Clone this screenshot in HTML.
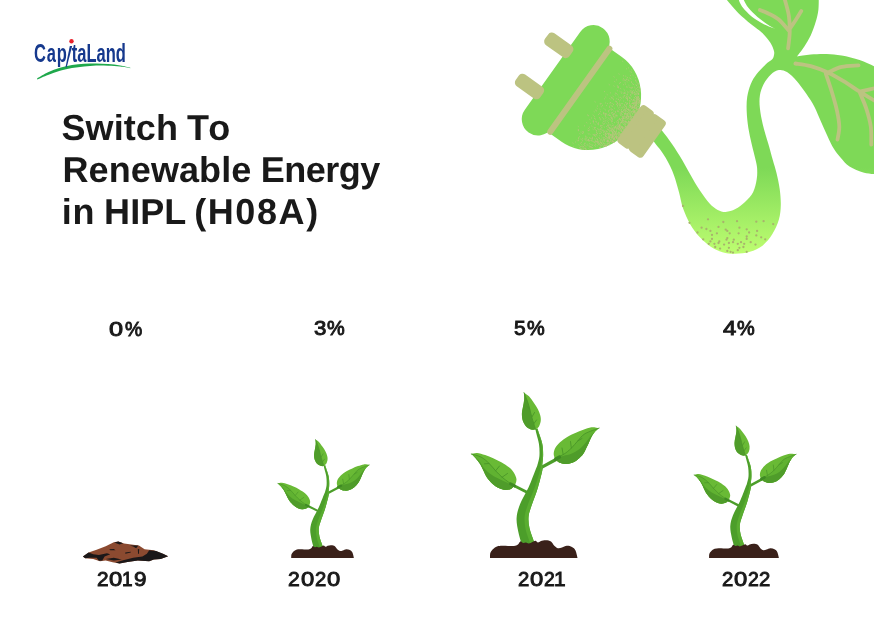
<!DOCTYPE html>
<html><head><meta charset="utf-8">
<style>
html,body{margin:0;padding:0;background:#fff;}
body{width:874px;height:621px;position:relative;overflow:hidden;font-family:"Liberation Sans",sans-serif;color:#191919;}
.t{position:absolute;white-space:nowrap;font-weight:bold;line-height:1;transform-origin:0 0;}
.title{font-size:36px;text-rendering:geometricPrecision;}
.title span{position:absolute;top:0;}
.lb{left:0;font:normal 19.5px/1 "Liberation Sans",sans-serif;-webkit-text-stroke:0.9px #191919;}
.lb span{position:absolute;top:0;transform-origin:0 0;}
.logo{position:absolute;left:34px;top:41px;font-size:25px;font-weight:bold;color:#16398d;line-height:1;white-space:nowrap;transform-origin:0 0;transform:scaleX(0.66);}
.li{color:transparent;display:inline-block;width:6.5px;}
.lc{letter-spacing:1.2px;}
svg{position:absolute;left:0;top:0;}
</style></head><body>
<svg width="874" height="621" viewBox="0 0 874 621">
<defs><linearGradient id="vg" gradientUnits="userSpaceOnUse" x1="0" y1="168" x2="0" y2="258">
<stop offset="0" stop-color="#7ed957"/><stop offset="1" stop-color="#c1ff72"/></linearGradient></defs>
<path d="M648.0,134.0C649.1,135.5 652.8,140.2 654.9,142.9C657.0,145.6 658.7,147.5 660.5,150.0C662.3,152.5 664.2,155.2 665.8,158.0C667.4,160.8 668.9,163.5 670.3,166.5C671.7,169.5 672.8,171.8 674.2,176.1C675.7,180.4 677.5,186.8 679.0,192.2C680.5,197.6 681.1,202.9 683.0,208.3C684.9,213.7 687.5,219.6 690.3,224.4C693.1,229.2 696.4,233.5 699.9,237.3C703.4,241.1 707.4,244.5 711.2,247.0C715.0,249.5 718.5,251.1 722.5,252.2C726.5,253.3 730.8,253.9 735.4,253.8C740.0,253.7 745.3,253.2 749.9,251.8C754.5,250.4 759.0,248.4 762.8,245.4C766.5,242.4 769.7,238.4 772.4,234.1C775.1,229.8 777.5,224.4 778.9,219.6C780.3,214.8 780.7,210.2 780.8,205.1C780.9,200.0 780.4,194.4 779.7,189.0C779.0,183.6 777.6,177.8 776.5,172.9C775.4,168.1 774.2,164.8 772.8,159.9C771.4,155.1 770.0,149.7 768.3,143.8C766.6,137.9 764.2,130.3 762.8,124.4C761.4,118.5 760.4,113.1 759.9,108.3C759.4,103.5 759.3,99.4 759.9,95.4C760.5,91.4 761.8,87.7 763.6,84.2C765.4,80.7 768.4,76.9 770.9,74.5C773.4,72.1 776.2,70.4 778.9,70.0C781.6,69.6 784.0,70.3 787.0,72.1C790.0,73.9 793.5,77.3 796.7,80.9C799.9,84.5 803.3,89.5 806.3,93.8C809.2,98.1 812.0,102.1 814.4,106.7C816.8,111.3 818.6,116.4 820.8,121.2C822.9,126.0 825.1,131.1 827.3,135.7C829.4,140.3 831.5,145.0 833.7,148.6C835.9,152.2 837.9,154.5 840.5,157.5C843.1,160.5 845.6,164.0 849.5,166.5C853.4,169.0 859.0,171.4 864.1,172.7C869.2,174.0 877.4,174.2 880.0,174.5L880.0,69.0C879.0,68.5 877.4,67.7 874.0,66.2C870.6,64.7 865.0,61.9 859.6,60.1C854.2,58.3 847.1,56.6 841.6,55.6C836.1,54.6 831.9,54.2 826.8,54.0C821.6,53.8 815.7,54.1 810.7,54.5C805.7,54.9 799.3,56.1 797.0,56.4C798.2,54.8 801.9,50.2 804.2,46.7C806.5,43.2 808.8,39.4 810.7,35.4C812.6,31.4 814.2,26.9 815.5,22.6C816.8,18.3 817.9,14.3 818.4,9.7C818.9,5.1 818.7,-2.6 818.7,-5.0L723.0,-5.0C723.6,-4.2 724.4,-3.0 726.9,0.0C729.4,3.0 734.2,8.9 738.2,12.9C742.2,16.9 747.1,20.8 751.1,24.2C755.1,27.6 759.1,29.9 762.3,33.0C765.5,36.1 768.5,39.8 770.4,42.7C772.3,45.7 773.3,48.6 773.9,50.7C774.5,52.9 774.2,54.1 773.9,55.6C773.6,57.1 773.4,58.1 772.0,59.6C770.6,61.1 768.1,62.0 765.6,64.4C763.1,66.8 759.2,70.8 756.7,74.1C754.2,77.4 752.3,80.4 750.7,84.2C749.1,88.0 747.9,92.5 747.2,97.1C746.5,101.7 746.5,106.5 746.7,111.6C746.9,116.7 747.5,122.3 748.3,127.7C749.1,133.1 750.4,138.4 751.6,143.8C752.8,149.2 754.7,155.9 755.6,159.9C756.5,163.9 756.9,164.9 757.1,168.1C757.3,171.3 757.4,175.3 756.7,179.3C756.0,183.3 755.1,188.4 753.1,192.2C751.1,196.0 748.0,199.1 745.0,201.9C742.0,204.7 738.6,207.4 735.4,209.1C732.2,210.8 728.7,211.8 725.7,211.9C722.8,212.0 720.4,211.3 717.7,209.9C715.0,208.5 712.6,206.7 709.6,203.5C706.6,200.3 703.1,195.4 699.9,190.6C696.7,185.8 693.2,179.6 690.3,174.5C687.3,169.4 685.2,165.1 682.2,160.0C679.2,154.9 675.3,148.8 672.0,144.0C668.7,139.2 665.2,134.5 662.5,131.2C659.8,127.9 657.1,125.2 656.0,124.0Z" fill="url(#vg)"/>
<path d="M738.2,-3.0C738.5,-2.0 738.9,0.9 740.0,3.0C741.1,5.1 742.2,7.1 744.6,9.7C747.0,12.3 750.8,15.9 754.3,18.5C757.8,21.1 762.2,23.3 765.6,25.0C769.0,26.7 773.4,28.1 774.9,28.7C773.6,27.9 770.1,26.2 767.2,24.2C764.3,22.2 760.6,19.6 757.5,16.9C754.4,14.2 750.9,10.9 748.6,8.1C746.3,5.3 744.8,1.8 743.8,0.0C742.8,-1.8 742.7,-2.5 742.5,-3.0Z" fill="#fff"/>
<path d="M788.1,48.3C788.4,45.6 789.6,37.6 789.7,32.2C789.8,26.8 789.7,21.5 788.9,16.1C788.1,10.7 785.9,3.5 784.9,0.0C783.9,-3.5 783.3,-4.2 783.0,-5.0 M788.9,30.6C787.1,28.7 781.8,22.1 778.4,19.3C775.0,16.5 771.9,15.2 768.8,13.7C765.7,12.1 761.4,10.6 759.9,10.0 M789.7,29.0C790.8,27.4 794.3,22.3 796.2,19.3C798.1,16.3 800.4,12.4 801.3,11.0 M795.4,63.5C798.0,63.9 805.3,64.6 810.7,66.1C816.1,67.6 822.1,69.7 828.0,72.5C833.9,75.3 840.7,79.5 846.0,82.7C851.3,85.9 853.9,88.2 859.6,91.7C865.3,95.2 876.6,102.0 880.0,104.0 M828.0,72.5C830.3,71.6 836.5,68.1 841.6,66.9C846.7,65.7 855.7,65.6 858.5,65.3 M825.8,73.6C826.7,76.4 829.5,84.3 831.4,90.5C833.3,96.7 835.7,104.8 837.0,110.8C838.3,116.8 839.2,121.8 839.3,126.6C839.4,131.4 837.8,137.4 837.5,139.6 M859.6,91.7C863.0,90.9 876.6,87.8 880.0,87.0 M860.0,93.0C861.0,95.6 864.5,103.0 866.3,108.6C868.1,114.2 870.0,120.6 870.8,126.6C871.6,132.6 871.2,141.6 871.3,144.6" fill="none" stroke="#bcc381" stroke-width="3.8" stroke-linecap="round" stroke-linejoin="round"/>
<path d="M683.0,205.9h.01M689.5,222.8h.01M708.0,219.3h.01M701.6,227.7h.01M706.4,229.0h.01M697.5,232.5h.01M710.4,230.9h.01M712.0,234.9h.01M716.9,233.3h.01M718.5,226.9h.01M723.3,222.0h.01M725.7,229.6h.01M727.3,230.9h.01M729.7,233.3h.01M737.0,221.2h.01M739.4,227.7h.01M738.6,233.3h.01M746.7,229.3h.01M749.1,232.5h.01M746.7,236.5h.01M756.3,221.7h.01M763.6,221.2h.01M773.2,224.1h.01M757.1,230.9h.01M756.3,235.4h.01M761.2,237.3h.01M765.2,239.3h.01M750.7,242.2h.01M746.7,238.9h.01M741.0,242.2h.01M737.8,243.8h.01M733.8,239.7h.01M733.0,242.2h.01M727.3,238.1h.01M726.5,239.7h.01M728.9,243.0h.01M724.1,244.6h.01M719.3,241.4h.01M718.5,243.0h.01M714.4,243.8h.01M712.0,238.9h.01M710.4,241.4h.01M708.8,243.8h.01M715.2,247.0h.01M720.1,248.6h.01M728.9,247.8h.01M730.6,251.8h.01M733.0,252.6h.01M737.8,250.2h.01M739.4,247.8h.01M743.4,247.0h.01M744.2,243.8h.01M746.7,251.8h.01M755.5,244.6h.01M703.2,239.3h.01M727.3,251.0h.01" stroke="#a8b46c" stroke-width="2.3" stroke-linecap="round" fill="none"/>
<g transform="translate(579.8,90.3) rotate(35.45)">
<rect x="-33.5" y="-64" width="32.5" height="128" rx="16.25" fill="#7ed957"/>
<path d="M-1,-51.5L15,-51.5A48,52 0 0 1 15,52.5L-1,52.5Z" fill="#7ed957"/>
<path d="M31.9,-44.7h.01M31.3,34.0h.01M31.0,26.7h.01M56.2,-19.4h.01M34.1,17.1h.01M53.2,-22.4h.01M33.4,-34.5h.01M55.5,-23.0h.01M29.6,-10.5h.01M26.7,-46.5h.01M34.6,-43.1h.01M55.5,20.4h.01M53.0,24.9h.01M36.5,-15.0h.01M60.5,-14.1h.01M51.0,26.0h.01M47.9,-34.3h.01M57.7,-8.3h.01M50.5,0.8h.01M50.8,-23.9h.01M39.4,20.8h.01M55.5,-4.8h.01M38.4,44.4h.01M53.0,-7.1h.01M53.9,-11.1h.01M48.7,-25.4h.01M44.9,-22.7h.01M61.5,4.9h.01M19.1,0.5h.01M56.3,-11.5h.01M47.8,14.9h.01M53.5,8.7h.01M45.6,20.1h.01M51.9,25.8h.01M37.4,16.6h.01M48.5,-25.8h.01M24.7,7.0h.01M46.1,18.3h.01M61.2,-5.3h.01M53.1,0.9h.01M25.4,35.4h.01M49.3,35.3h.01M57.6,-21.9h.01M53.9,-22.3h.01M59.7,5.1h.01M49.4,15.0h.01M38.7,-11.0h.01M49.2,-9.1h.01M34.0,9.1h.01M33.2,5.4h.01M43.5,-20.4h.01M40.1,-11.6h.01M46.8,-20.0h.01M51.8,24.9h.01M53.1,-28.0h.01M59.2,-17.8h.01M28.0,41.3h.01M25.4,-23.3h.01M35.1,44.5h.01M50.5,11.2h.01M48.6,-31.3h.01M61.5,8.7h.01M43.8,-30.8h.01M57.6,-7.9h.01M36.7,44.3h.01M61.7,-1.8h.01M58.9,-11.7h.01M42.1,33.8h.01M51.2,-28.9h.01M36.5,-12.1h.01M42.0,-1.1h.01M50.0,29.1h.01M32.3,1.1h.01M48.3,28.9h.01M48.3,32.8h.01M62.0,-0.8h.01M35.6,43.7h.01M56.0,5.7h.01M53.1,-25.6h.01M44.5,-19.5h.01M40.1,9.3h.01M42.3,-2.6h.01M30.1,-24.5h.01M43.5,6.5h.01M54.4,25.5h.01M48.8,-4.9h.01M54.5,22.0h.01M55.2,-6.5h.01M39.4,-20.0h.01M27.0,-37.2h.01M46.3,24.6h.01M49.7,-30.7h.01M50.5,-15.9h.01M53.8,-24.9h.01M51.3,13.3h.01M54.4,16.9h.01M51.7,24.3h.01M43.3,-4.8h.01M46.4,-15.4h.01M54.8,-24.2h.01M53.7,13.8h.01M51.0,17.5h.01M59.2,-17.6h.01M38.5,34.0h.01M53.5,-10.0h.01M44.0,30.4h.01M42.9,29.6h.01M58.3,16.2h.01M53.2,29.8h.01M58.5,-5.6h.01M61.9,-2.6h.01M48.3,-32.5h.01M50.6,22.2h.01M55.4,-1.4h.01M39.2,-21.6h.01M53.5,-17.5h.01M56.8,-12.8h.01M55.7,7.5h.01M51.5,-4.2h.01M52.4,28.3h.01M50.9,-7.7h.01M51.3,21.8h.01M47.4,-31.7h.01M54.3,13.4h.01M42.6,-37.2h.01M54.2,-17.2h.01M57.2,17.5h.01M52.4,-16.5h.01M41.5,-0.5h.01M52.6,8.6h.01M52.6,-17.1h.01M55.5,-0.7h.01M58.1,-2.4h.01M55.6,-18.6h.01M29.0,26.1h.01M36.8,21.1h.01M55.8,22.6h.01M50.7,-16.8h.01M59.5,13.9h.01M58.8,12.6h.01M37.4,-36.6h.01M39.4,15.6h.01M29.1,8.9h.01M53.2,1.8h.01M48.9,27.0h.01M51.2,21.7h.01M50.1,8.9h.01M61.0,7.5h.01M35.5,-5.8h.01M31.5,42.7h.01M37.2,32.9h.01M56.8,-8.2h.01M39.6,-9.2h.01M53.3,11.8h.01M57.7,8.6h.01M32.7,-11.9h.01M57.0,8.6h.01M35.3,46.8h.01M51.6,-26.7h.01M23.6,-27.3h.01M44.5,-16.5h.01M60.3,0.5h.01M50.4,-12.0h.01M44.2,20.7h.01M54.6,-15.4h.01M48.4,22.1h.01M24.7,-12.4h.01M54.2,7.3h.01M53.9,28.8h.01M53.6,-22.8h.01M60.0,-7.9h.01M42.5,-4.9h.01M46.7,31.8h.01M43.1,4.6h.01M46.9,17.7h.01M59.5,-15.4h.01M38.2,27.1h.01M50.1,34.4h.01M46.6,-5.4h.01M43.9,-25.9h.01M54.2,-21.2h.01M48.8,-18.0h.01M53.4,-18.7h.01M35.2,-0.0h.01M51.3,-7.8h.01M39.0,-15.8h.01M60.9,12.5h.01M26.9,40.1h.01M39.1,-10.8h.01M55.5,5.3h.01M21.0,-13.3h.01M38.2,31.5h.01M58.9,18.2h.01M40.0,-40.2h.01M56.0,11.5h.01M42.8,14.0h.01M38.3,-9.8h.01M59.6,-16.6h.01M55.5,15.4h.01M41.8,23.3h.01M52.8,-8.0h.01M50.7,-19.8h.01M61.8,-4.9h.01M36.8,45.9h.01M35.6,5.7h.01M59.7,-14.0h.01M42.5,-28.7h.01M39.9,39.8h.01M56.6,-14.5h.01M48.6,0.1h.01M56.6,24.1h.01M38.6,-14.3h.01M56.1,22.6h.01M58.0,-2.8h.01M36.7,-2.4h.01M42.0,-13.4h.01M52.6,-15.4h.01M39.8,44.2h.01M54.2,-8.9h.01M57.0,-6.3h.01M48.7,-10.2h.01M55.2,5.8h.01M55.1,-25.3h.01M58.6,5.8h.01M51.8,-21.7h.01M52.1,9.6h.01M59.4,-5.7h.01M45.1,18.2h.01M60.3,-8.9h.01M59.7,2.7h.01M37.7,-42.8h.01M51.3,-21.0h.01M51.3,9.9h.01M34.4,-36.5h.01M35.3,3.7h.01M59.9,-1.2h.01M39.4,19.7h.01M59.7,-9.2h.01M51.5,-2.1h.01M49.3,14.2h.01M51.7,19.0h.01M53.4,-9.8h.01M43.9,35.0h.01M42.1,-21.6h.01M44.4,31.9h.01M57.2,-11.0h.01M60.6,0.7h.01M52.5,-25.9h.01M57.2,17.3h.01M57.9,-0.2h.01M53.9,19.1h.01M48.1,26.0h.01M40.3,8.0h.01M46.0,-23.1h.01M48.6,-34.2h.01M54.0,14.3h.01M49.4,-23.4h.01M58.5,3.1h.01M49.5,18.5h.01M53.3,-23.6h.01M27.8,20.7h.01M54.1,-18.2h.01M52.5,3.9h.01M35.8,-7.9h.01M48.5,1.7h.01M47.7,22.8h.01M47.7,13.5h.01M33.0,-41.4h.01M51.7,-2.5h.01M40.2,-12.6h.01M53.7,29.7h.01M56.7,-1.6h.01M45.0,22.2h.01M53.3,13.9h.01M22.5,-36.0h.01M53.2,0.3h.01M40.7,31.1h.01M61.7,4.8h.01M54.0,22.5h.01M45.4,36.4h.01M59.9,-6.1h.01M49.4,-23.5h.01M58.3,19.7h.01M46.0,-30.2h.01M46.2,-20.4h.01M52.2,17.8h.01M44.4,-33.2h.01M43.9,7.2h.01M51.3,-25.8h.01M51.8,-22.3h.01M50.1,-28.7h.01M59.9,2.6h.01M33.4,24.1h.01M44.5,-14.4h.01M62.1,-1.9h.01M41.3,15.7h.01M30.1,18.6h.01M52.4,16.0h.01M48.8,12.9h.01M45.0,31.2h.01M51.2,-27.8h.01M44.5,27.8h.01M59.8,8.0h.01M46.7,-6.5h.01M54.0,14.8h.01M40.4,-31.4h.01M37.4,23.5h.01M51.8,31.4h.01M52.2,30.3h.01M47.8,-29.0h.01M53.5,22.5h.01M51.7,-19.8h.01M33.4,-31.4h.01M47.2,28.1h.01M43.0,-23.0h.01M50.4,-6.5h.01M31.4,-16.8h.01M57.7,-2.8h.01M47.4,24.3h.01M52.7,-16.8h.01M55.5,7.8h.01M49.5,32.6h.01M53.1,-16.1h.01M45.2,15.9h.01M55.9,5.0h.01M56.4,17.2h.01M53.1,30.0h.01M58.1,5.3h.01M55.8,-14.4h.01M60.5,1.1h.01M52.2,-7.9h.01M36.2,-3.3h.01M49.2,-27.3h.01M47.2,21.9h.01M42.0,-20.5h.01M61.2,-10.0h.01M54.7,23.8h.01M60.0,5.1h.01M41.5,29.7h.01M58.2,4.1h.01M38.3,43.9h.01M58.9,-6.9h.01M46.8,-33.8h.01M58.3,6.3h.01M51.9,-8.9h.01M59.1,12.0h.01M57.9,9.0h.01M48.2,15.5h.01M35.2,23.1h.01M60.3,-2.8h.01M62.4,4.3h.01M21.7,32.8h.01M57.9,11.7h.01M50.4,13.6h.01M55.0,-5.9h.01M45.5,25.5h.01M25.2,7.1h.01M56.4,1.6h.01M61.2,-9.9h.01M53.3,-26.9h.01M53.9,-4.9h.01M58.8,10.8h.01M31.6,-34.7h.01M35.9,-17.1h.01M48.8,22.5h.01M31.7,-35.8h.01M35.6,-1.2h.01M55.6,14.2h.01M56.0,22.6h.01M28.9,17.8h.01M55.6,9.2h.01M36.1,9.2h.01M47.0,33.1h.01M49.5,24.3h.01M52.2,-28.2h.01M54.9,-17.5h.01M57.0,-7.6h.01M50.5,-13.0h.01M57.7,-6.3h.01M40.7,-25.5h.01M29.5,-12.6h.01M45.4,13.0h.01M41.1,1.0h.01M28.0,41.8h.01M55.1,-26.7h.01M52.6,-24.0h.01M56.3,-14.8h.01M41.8,6.6h.01M53.7,6.9h.01M53.2,15.9h.01M53.7,19.6h.01M57.4,-16.8h.01M42.3,-39.4h.01M51.8,-22.8h.01M52.6,24.1h.01M41.7,37.6h.01M56.2,-14.9h.01M58.5,-2.9h.01M27.4,32.5h.01M51.9,-25.6h.01M45.3,32.8h.01M55.7,-11.6h.01M35.7,35.0h.01M50.3,34.4h.01M38.7,37.9h.01M54.4,-3.1h.01M38.0,32.0h.01M47.8,-13.7h.01M24.6,22.4h.01M60.0,-9.5h.01M52.1,-0.4h.01M52.5,6.0h.01M33.4,22.2h.01M44.8,-34.3h.01M54.7,-20.5h.01M32.0,-12.5h.01M55.4,-13.0h.01M38.2,32.5h.01M50.9,13.3h.01M50.8,-5.7h.01M49.8,-19.0h.01M42.1,32.1h.01M54.0,20.6h.01M54.0,8.9h.01M52.0,10.2h.01M56.3,17.2h.01M49.9,12.1h.01M58.2,6.9h.01M43.7,31.2h.01M54.2,-10.7h.01M54.7,7.0h.01M50.4,-3.5h.01M30.5,-5.2h.01M48.7,-29.7h.01M59.7,-5.2h.01M55.4,-25.3h.01M57.1,-12.9h.01M58.9,-2.3h.01M56.0,-9.0h.01M49.4,-3.3h.01M42.8,-14.0h.01M61.9,6.6h.01M37.6,3.4h.01M44.0,-28.7h.01M48.5,13.1h.01M47.5,-20.6h.01M40.9,23.8h.01M31.7,41.4h.01M54.0,-19.9h.01M35.4,17.2h.01M49.2,10.5h.01M51.1,23.2h.01M52.2,-3.0h.01M24.6,4.7h.01M58.8,-6.4h.01M52.8,-23.4h.01M48.7,-30.2h.01M57.4,17.1h.01M56.3,20.5h.01M33.6,-18.3h.01M51.8,-3.2h.01M47.3,-4.2h.01M52.5,17.2h.01M61.8,2.6h.01M56.7,-14.6h.01M47.1,-7.0h.01M56.7,16.0h.01M49.4,-16.5h.01M43.4,18.9h.01M44.1,1.1h.01M57.2,-3.3h.01M56.1,-18.5h.01M46.1,-13.4h.01M52.7,-16.7h.01M55.4,27.0h.01M52.0,-20.3h.01M52.5,3.0h.01M52.4,20.0h.01M37.2,28.1h.01M56.5,19.2h.01M57.3,22.3h.01M33.5,-22.3h.01M33.6,12.1h.01M54.4,-16.8h.01M61.1,9.3h.01M22.1,33.4h.01M47.0,15.9h.01M46.3,-15.8h.01M59.0,3.4h.01M37.5,7.8h.01M58.7,-6.3h.01M49.5,10.3h.01M49.0,17.7h.01M41.5,-8.0h.01M59.6,-6.6h.01M42.1,4.4h.01M46.5,-37.3h.01M53.7,18.0h.01M26.7,-15.7h.01M50.4,31.4h.01M48.2,12.0h.01M44.2,-38.4h.01M54.1,24.8h.01M35.6,6.4h.01M39.6,18.0h.01M54.9,26.3h.01M56.8,16.2h.01M50.5,-27.0h.01M50.3,4.0h.01M59.7,-5.5h.01M29.4,-38.1h.01M61.1,-6.3h.01M40.7,34.1h.01M47.2,30.5h.01M56.9,-14.9h.01M39.6,37.8h.01M34.4,-3.3h.01M60.5,9.8h.01M56.9,-5.1h.01M36.4,4.1h.01M53.7,19.9h.01M40.9,-39.7h.01M38.9,11.3h.01M55.0,-13.7h.01M42.6,-22.0h.01M50.1,-0.0h.01M55.1,18.6h.01M32.3,19.0h.01M58.5,-3.2h.01M43.9,0.0h.01M43.5,31.9h.01M60.5,12.2h.01M59.5,-0.8h.01M47.3,-28.2h.01M34.6,16.4h.01M50.5,-20.2h.01M29.1,5.4h.01M57.9,16.0h.01M55.0,-22.6h.01M49.6,35.3h.01M30.6,-14.4h.01M56.2,19.3h.01M38.0,39.5h.01M50.8,15.4h.01M38.9,24.8h.01M52.3,13.4h.01M36.9,-2.2h.01M43.7,-36.8h.01M43.9,-7.4h.01M45.5,8.2h.01M52.6,18.3h.01M28.5,14.4h.01M56.1,12.0h.01M32.0,-7.8h.01M38.1,-23.4h.01M55.9,7.8h.01M43.6,5.7h.01M56.6,8.3h.01M54.3,-12.6h.01M38.4,-31.2h.01M44.3,2.3h.01M60.7,-1.2h.01M50.0,10.4h.01M53.2,18.6h.01M52.1,-4.7h.01M51.8,16.1h.01M60.2,0.8h.01M49.9,4.5h.01M34.4,37.3h.01M44.4,-0.7h.01M41.4,-33.0h.01M46.7,32.3h.01M56.0,6.2h.01M50.1,-23.1h.01M39.1,2.8h.01M39.5,34.0h.01M54.6,0.8h.01M47.7,8.8h.01M24.5,26.2h.01M57.2,-14.2h.01M54.0,-26.2h.01M60.7,7.6h.01M39.5,17.3h.01M22.0,33.7h.01M53.8,29.9h.01M46.0,-16.7h.01M49.2,30.6h.01M56.5,19.7h.01M35.8,36.4h.01M40.4,40.6h.01M45.5,-35.9h.01M55.9,13.6h.01M49.5,3.4h.01M36.4,-29.8h.01M51.1,18.7h.01M52.7,25.9h.01M51.9,-17.0h.01M50.0,-31.3h.01M47.5,19.1h.01M58.9,15.6h.01M50.3,-1.1h.01M33.1,35.9h.01M57.0,17.0h.01M39.3,26.3h.01M40.9,-32.3h.01M42.4,3.6h.01M59.5,6.1h.01M31.5,16.4h.01M46.9,10.8h.01M32.6,37.0h.01M50.9,15.4h.01M41.4,19.5h.01M33.7,-39.0h.01M47.1,-5.4h.01M36.9,6.6h.01M51.4,-1.5h.01M58.7,12.8h.01M34.8,-8.2h.01M51.7,-0.8h.01M59.2,-9.8h.01M26.5,44.6h.01M60.8,8.3h.01M58.1,-6.8h.01M47.5,20.3h.01M54.2,14.7h.01M57.7,-13.6h.01M48.2,-9.1h.01M29.2,7.4h.01M49.3,12.8h.01M59.5,-15.4h.01M20.6,15.6h.01M53.4,-5.6h.01M46.1,13.2h.01M61.8,-8.3h.01M48.5,30.6h.01M37.2,-11.7h.01M37.0,-15.1h.01M45.0,-1.2h.01M53.7,27.2h.01M50.8,-12.4h.01M31.8,10.9h.01M38.0,44.6h.01M57.0,7.5h.01M56.2,23.0h.01M50.4,-12.4h.01M39.0,24.9h.01M57.3,2.6h.01M48.8,25.9h.01M61.3,12.1h.01M54.4,-19.7h.01M37.1,45.7h.01M54.0,-20.7h.01M39.8,28.4h.01M45.3,-29.0h.01M33.3,46.9h.01M24.6,-1.3h.01M47.7,25.4h.01M35.1,-14.4h.01M38.5,28.4h.01M56.0,-18.6h.01M46.8,33.1h.01M37.1,-25.6h.01M34.6,40.7h.01M28.9,-25.5h.01M46.0,-6.9h.01M62.1,6.0h.01M59.2,-12.9h.01M48.0,16.1h.01M45.8,27.2h.01M52.7,13.0h.01M49.4,19.4h.01M52.1,-2.8h.01M54.0,12.3h.01M26.4,39.4h.01M49.8,-31.5h.01M38.5,10.0h.01M51.0,20.2h.01M33.4,43.2h.01M37.1,35.4h.01M47.3,-8.8h.01M50.1,20.9h.01M60.6,8.6h.01M52.3,-8.7h.01M51.9,4.8h.01M49.9,-23.1h.01M36.8,35.9h.01M57.0,17.7h.01M52.8,-9.9h.01M49.1,0.5h.01M42.4,39.9h.01M33.7,29.9h.01M44.7,13.1h.01M35.0,41.9h.01M39.6,12.9h.01M50.7,-2.1h.01M29.5,14.4h.01M43.6,19.3h.01M55.7,-13.8h.01M58.3,-13.9h.01M53.3,6.9h.01M50.5,18.6h.01M57.8,17.8h.01M57.4,-9.3h.01M23.9,-29.8h.01M52.4,-23.4h.01M52.8,30.8h.01M53.9,16.0h.01M30.3,27.7h.01M36.8,23.2h.01M48.6,19.4h.01M53.0,16.1h.01M35.9,-21.8h.01M53.7,5.9h.01M34.4,21.3h.01M55.8,0.8h.01M55.3,-9.6h.01M39.2,6.1h.01M39.1,44.6h.01M50.6,-25.5h.01M48.8,-33.5h.01M50.0,23.6h.01M58.7,17.5h.01M48.3,11.9h.01M53.7,-8.1h.01M56.0,-8.3h.01M39.4,-21.3h.01M47.0,6.2h.01M41.3,4.4h.01M56.7,11.3h.01M50.5,-27.7h.01M56.5,-22.3h.01M46.5,20.1h.01M38.3,16.2h.01M53.8,-19.9h.01M56.1,-24.8h.01M52.2,7.3h.01M45.3,-22.3h.01M39.4,-19.3h.01M56.2,-13.7h.01M29.3,39.2h.01M61.5,6.8h.01M61.6,2.7h.01M51.7,18.7h.01M28.4,-28.7h.01M30.0,-44.5h.01M35.6,33.1h.01M48.5,18.6h.01M59.1,3.0h.01M52.8,5.6h.01M47.1,-31.7h.01M32.5,-25.0h.01M43.5,27.5h.01M50.4,-10.4h.01M58.7,3.2h.01M53.1,0.4h.01M50.5,-6.8h.01M53.5,19.9h.01M59.8,-5.0h.01M52.5,14.6h.01M49.1,-12.1h.01M47.7,-4.3h.01M30.2,-12.2h.01M54.2,-17.7h.01M26.9,42.4h.01M35.5,-6.1h.01M43.0,29.9h.01M29.2,17.3h.01M60.9,-6.9h.01M48.4,18.8h.01M30.5,1.0h.01M39.0,-24.2h.01M60.4,12.5h.01M47.7,-7.4h.01M53.0,-21.6h.01M45.6,-13.4h.01M57.5,1.3h.01M37.4,42.0h.01M43.7,-1.1h.01M50.0,-8.8h.01M55.7,-7.3h.01M54.2,9.3h.01M45.1,31.8h.01M48.3,-18.2h.01M48.6,31.9h.01M57.2,21.3h.01M49.0,14.0h.01M54.3,26.6h.01M30.9,-12.6h.01M55.2,23.5h.01M50.1,-31.6h.01M59.7,13.9h.01M48.9,-12.4h.01M57.0,17.0h.01M43.4,10.9h.01M37.2,-32.5h.01M23.4,2.6h.01M51.4,29.1h.01M19.7,30.4h.01M59.6,-17.0h.01M50.2,18.1h.01M52.4,-27.7h.01M44.5,-10.4h.01M40.7,3.3h.01M53.6,-24.0h.01M40.4,-31.5h.01M20.1,-30.8h.01M57.0,-15.3h.01M61.7,5.7h.01M57.0,-8.3h.01M42.4,-20.5h.01M53.8,29.6h.01M42.7,-34.3h.01M39.6,-0.9h.01M50.3,-30.7h.01M39.4,22.4h.01M41.0,-23.7h.01M30.4,37.6h.01M55.0,-6.6h.01M26.8,0.8h.01M37.6,-3.3h.01M53.7,-18.6h.01M61.9,4.4h.01M46.0,-11.7h.01M44.5,-27.1h.01M31.0,-34.4h.01M31.5,-18.6h.01M32.6,-29.9h.01M46.1,-13.8h.01M46.9,-28.7h.01M59.7,-15.4h.01M57.4,-14.3h.01M51.7,32.0h.01M45.9,20.0h.01M52.2,21.9h.01M50.6,-16.2h.01M52.7,-12.3h.01M58.4,9.4h.01M39.6,0.2h.01M56.0,19.4h.01M27.4,33.6h.01M54.8,-1.3h.01M32.3,34.7h.01M32.0,-36.4h.01M44.8,11.0h.01M41.3,39.8h.01M29.1,-24.4h.01M33.3,-4.2h.01M57.2,19.8h.01M37.8,30.9h.01M25.1,47.0h.01M54.6,-26.4h.01M43.0,4.5h.01M59.4,7.7h.01M58.3,-19.1h.01M56.7,22.1h.01M36.0,42.0h.01M59.7,-1.8h.01M41.3,5.9h.01M31.0,-18.4h.01M50.1,-16.1h.01M41.1,19.7h.01M57.3,-17.3h.01M53.1,18.6h.01M46.6,30.5h.01M35.4,-22.8h.01M25.9,32.2h.01M38.0,-11.5h.01M58.6,16.4h.01M43.2,12.6h.01M54.7,-12.4h.01M34.3,-5.6h.01M25.8,-1.8h.01M31.4,7.3h.01M41.7,11.6h.01M57.0,12.1h.01M42.4,39.3h.01M44.5,-10.4h.01M59.0,16.4h.01M56.7,-1.1h.01M55.8,5.3h.01M32.2,-6.7h.01M52.4,22.3h.01M25.4,33.6h.01M35.6,0.8h.01M29.3,24.4h.01M61.0,12.0h.01M28.8,-34.8h.01M51.9,7.4h.01M60.3,-0.2h.01M46.2,14.0h.01M61.4,4.4h.01M47.4,-7.3h.01M33.4,45.5h.01M47.6,-3.0h.01M56.3,6.3h.01M38.2,3.2h.01M61.2,-6.7h.01M58.7,12.5h.01M53.0,18.0h.01M49.3,0.3h.01M42.8,25.6h.01M50.2,8.6h.01M53.3,9.4h.01M34.6,5.1h.01M52.0,9.0h.01M50.3,22.4h.01M54.9,2.4h.01M47.6,26.4h.01M50.2,9.5h.01M45.1,31.9h.01M56.9,9.5h.01M47.9,-36.4h.01M51.1,4.8h.01M53.9,-5.2h.01M61.7,-3.6h.01M58.3,-1.4h.01M40.8,-12.2h.01M36.1,32.9h.01M54.7,-4.6h.01M54.0,17.8h.01M53.8,-12.5h.01M58.4,13.4h.01M43.0,-36.8h.01M46.2,-17.2h.01M49.3,24.7h.01M55.1,-26.9h.01M48.0,4.5h.01M42.9,-29.9h.01M46.8,22.2h.01M34.2,15.6h.01M48.2,-12.9h.01M45.6,17.7h.01M43.9,24.4h.01M48.9,-35.5h.01M46.3,15.4h.01M51.7,-12.8h.01M37.0,-17.9h.01M30.7,-21.5h.01M42.9,-5.7h.01M51.8,22.5h.01M46.4,-36.8h.01M25.5,15.8h.01M44.3,-39.5h.01M50.2,-16.7h.01M47.1,-22.3h.01M44.7,-25.3h.01M51.8,-28.8h.01M53.5,22.6h.01M39.0,-26.8h.01M36.6,28.5h.01M32.0,4.3h.01M39.5,-9.2h.01M21.8,15.6h.01M54.9,-7.0h.01M54.4,-3.4h.01M43.6,12.1h.01M57.1,-20.8h.01M29.0,17.1h.01M42.1,9.7h.01M56.4,-5.2h.01M59.9,5.8h.01M44.7,-11.9h.01M46.8,9.7h.01M60.2,-9.9h.01M37.9,17.3h.01M46.6,20.4h.01M38.1,20.9h.01M51.7,21.1h.01M30.7,22.3h.01M41.7,0.5h.01M46.4,21.6h.01M39.6,19.4h.01M52.7,1.5h.01M49.3,-22.0h.01M60.4,-4.4h.01M53.6,-4.1h.01M50.7,14.6h.01M55.8,14.7h.01M56.0,-20.4h.01M53.1,7.5h.01M52.6,30.4h.01M37.7,40.5h.01M48.6,-10.6h.01M49.9,20.4h.01M54.7,-21.2h.01M30.1,-34.2h.01M30.0,27.9h.01M18.3,-48.4h.01M57.9,-1.5h.01M49.2,-27.6h.01M51.9,2.9h.01M34.5,4.2h.01M41.1,-22.3h.01M56.0,-1.2h.01M50.0,-10.2h.01M50.7,-4.1h.01M41.2,-3.5h.01M56.2,12.9h.01M52.4,-20.9h.01M60.6,-3.3h.01M52.3,25.3h.01M43.7,19.8h.01M48.1,27.6h.01M53.9,4.8h.01M53.0,20.4h.01M60.9,10.2h.01M51.0,18.2h.01M58.7,-0.5h.01M51.8,0.7h.01M55.6,2.2h.01M33.7,21.8h.01M35.8,35.0h.01M47.6,-22.6h.01M49.6,-7.0h.01M54.4,-26.3h.01M55.6,27.0h.01M60.9,3.5h.01M38.4,34.7h.01M60.0,10.3h.01M55.6,27.1h.01M50.4,-3.0h.01M58.5,-18.5h.01M53.3,-0.6h.01M58.9,-3.0h.01M42.6,-9.3h.01M40.6,-35.9h.01M51.9,13.5h.01M57.8,17.8h.01M59.5,-4.6h.01M53.4,-26.4h.01M32.5,-32.5h.01M56.8,-17.8h.01M43.7,32.3h.01M37.7,-24.0h.01M41.2,-24.3h.01M39.4,-35.9h.01M49.2,26.2h.01M38.9,-17.7h.01M43.7,-28.1h.01M41.9,-11.4h.01M50.9,12.3h.01M46.1,34.9h.01M31.5,-38.0h.01M27.0,31.7h.01M31.0,45.0h.01M52.8,2.0h.01M53.1,-6.6h.01M40.1,2.8h.01M60.0,-14.4h.01M41.0,-10.5h.01M52.3,-4.8h.01M42.3,-11.0h.01M41.5,42.4h.01M53.3,25.3h.01M41.9,-27.9h.01M55.8,-17.5h.01M56.4,-18.5h.01M31.6,16.0h.01M34.8,22.7h.01M51.7,-18.2h.01M48.1,30.5h.01M58.7,-9.0h.01M52.4,-2.2h.01M38.7,3.3h.01M50.0,-14.8h.01M50.9,19.9h.01M52.8,-15.8h.01M50.0,3.3h.01M24.1,9.1h.01M45.0,-25.0h.01M53.1,6.8h.01M28.5,-29.9h.01M42.9,1.9h.01M57.4,23.0h.01M47.2,13.0h.01M51.9,-27.1h.01M45.1,-8.6h.01M57.4,9.0h.01M50.7,-26.5h.01M37.9,13.3h.01M51.6,-12.1h.01M54.3,19.3h.01M33.1,5.2h.01M38.6,13.9h.01M51.8,24.9h.01M25.2,-9.4h.01M60.4,10.3h.01M50.6,29.7h.01M58.5,-17.9h.01M31.7,39.6h.01M29.5,-33.1h.01M39.9,-2.7h.01M24.9,-7.4h.01M52.8,11.0h.01M49.0,-12.2h.01M46.3,-16.8h.01M55.2,5.6h.01M43.4,39.3h.01M40.2,26.9h.01M43.3,-29.3h.01M50.4,7.7h.01M61.2,-2.6h.01M35.6,35.9h.01M53.2,17.0h.01M26.7,38.0h.01M33.1,35.6h.01M32.6,11.0h.01M52.9,-13.3h.01M54.6,-17.1h.01M52.2,30.8h.01M45.5,-30.1h.01M60.0,5.4h.01M44.5,15.4h.01M54.1,-0.4h.01M54.2,5.3h.01M33.9,4.3h.01M58.7,-11.8h.01M62.3,3.9h.01M47.8,-7.5h.01M44.8,10.4h.01M35.0,39.8h.01M50.7,-12.4h.01M42.8,1.3h.01M56.0,22.0h.01M56.9,5.2h.01M42.1,32.5h.01M43.7,-29.4h.01M51.3,-7.2h.01M57.9,22.2h.01M52.1,-25.2h.01M50.6,5.7h.01M54.9,-6.7h.01M30.5,-46.7h.01M53.1,6.2h.01M38.1,27.7h.01M51.5,14.7h.01M39.1,0.0h.01M45.6,28.4h.01M27.6,-0.7h.01M51.2,-20.8h.01M49.2,-17.4h.01M61.3,0.6h.01M41.6,-16.6h.01M33.7,-36.4h.01M55.6,19.8h.01M56.3,16.3h.01M55.7,-0.7h.01M60.9,8.8h.01M34.5,46.9h.01M55.6,-24.2h.01M59.8,-14.9h.01M49.9,9.1h.01M58.5,2.9h.01M61.5,-6.0h.01M53.4,-6.9h.01M53.5,30.5h.01M32.0,30.5h.01M53.8,-0.8h.01M59.9,3.5h.01M54.1,-26.2h.01M52.0,16.7h.01M50.6,18.5h.01M54.9,-15.3h.01M25.3,12.5h.01M52.1,-0.7h.01M51.6,-10.4h.01M61.9,8.5h.01M41.1,-29.1h.01M61.0,-11.9h.01M43.1,33.8h.01M56.7,1.0h.01M27.9,49.4h.01M56.5,4.8h.01M35.5,-26.4h.01M30.5,38.9h.01M48.4,2.7h.01M60.2,-1.7h.01M37.9,1.5h.01M58.6,-9.5h.01M50.5,-7.3h.01M36.7,36.1h.01M57.9,12.1h.01M20.6,-21.7h.01M54.4,-27.5h.01M55.9,18.2h.01M48.6,14.6h.01M61.5,-8.7h.01M53.2,-19.5h.01M50.1,9.2h.01M57.0,6.4h.01M53.7,9.6h.01M53.0,5.4h.01M46.4,-4.3h.01M27.5,3.8h.01M57.3,2.4h.01M44.8,-27.9h.01M53.1,-22.3h.01M55.8,19.9h.01M37.1,11.7h.01M38.4,-5.5h.01M46.8,-29.8h.01M55.6,-24.1h.01M44.5,13.9h.01M24.6,-0.5h.01M55.3,-4.0h.01M51.3,6.3h.01M41.2,-26.7h.01M52.3,-24.4h.01M48.6,17.7h.01M34.6,4.5h.01M44.0,-20.2h.01M57.2,14.0h.01M34.3,44.7h.01M47.3,-11.5h.01M47.5,-18.7h.01M32.7,-7.8h.01M43.6,36.4h.01M52.2,25.7h.01M55.7,9.2h.01M51.0,-20.2h.01M57.6,-15.8h.01M52.3,5.5h.01M38.6,24.8h.01M41.3,21.8h.01M53.5,-5.0h.01M28.1,-4.6h.01M43.7,-21.0h.01M45.4,-31.9h.01M55.4,16.7h.01M58.3,13.2h.01M54.0,-6.7h.01M54.5,7.8h.01M27.8,-25.5h.01M53.7,27.9h.01M33.1,37.1h.01M46.9,-9.3h.01M54.0,15.5h.01M41.7,21.5h.01M35.5,-11.8h.01M59.1,-13.7h.01M59.3,-13.1h.01M44.2,-5.2h.01M60.1,15.4h.01M59.0,9.2h.01M47.7,-10.3h.01M56.5,13.2h.01M57.7,14.6h.01M41.5,33.7h.01M43.2,27.7h.01M59.0,-1.9h.01M59.7,-10.9h.01M41.9,4.0h.01M50.4,-23.8h.01M27.5,13.0h.01M25.6,-44.6h.01M60.2,0.3h.01M39.9,-40.7h.01M37.1,-36.7h.01M49.9,27.1h.01M61.6,-0.7h.01M58.5,9.1h.01M45.4,-0.2h.01M56.6,6.1h.01M41.1,39.8h.01M46.1,-7.6h.01M52.5,-11.4h.01M59.7,-5.7h.01M59.7,-3.8h.01M45.9,29.4h.01M30.5,-3.0h.01M55.2,18.5h.01M41.8,37.2h.01M29.6,-25.0h.01M60.9,-10.3h.01M53.7,-20.3h.01M44.6,6.3h.01M57.4,-14.5h.01M33.0,33.9h.01M52.0,-15.3h.01M59.8,7.6h.01M58.6,4.2h.01M44.5,-23.1h.01M37.1,-23.0h.01M42.0,18.7h.01M35.0,-38.9h.01M47.4,29.9h.01M59.3,10.9h.01M41.6,0.0h.01M25.3,18.1h.01M36.5,-30.3h.01M58.4,-18.2h.01M52.8,1.9h.01M36.8,10.2h.01M57.4,-13.0h.01M46.5,20.8h.01M58.8,-17.8h.01M34.0,11.5h.01M51.8,20.7h.01M51.8,21.1h.01M57.8,22.3h.01" stroke="#bcc381" stroke-width="0.9" stroke-linecap="round" fill="none"/>
<rect x="-58.2" y="-31.7" width="30" height="14.5" rx="4.5" fill="#bcc381"/>
<rect x="-58.2" y="18.8" width="30" height="14.5" rx="4.5" fill="#bcc381"/>
<rect x="-3" y="-54" width="6" height="108" rx="3" fill="#bcc381"/>
<rect x="59" y="-25.5" width="15.5" height="46" rx="4" fill="#bcc381"/>
<rect x="73" y="-24.5" width="17" height="45" rx="4" fill="#bcc381"/>
<rect x="66" y="-22" width="14" height="39" fill="#bcc381"/>
</g>
<defs><g id="plant">
<path d="M541.5,467.4L556,459.5" stroke="#4c9e2a" stroke-width="3.2" stroke-linecap="round"/>
<path d="M514.2,485.7L528.5,493" stroke="#4c9e2a" stroke-width="2.9" stroke-linecap="round"/>
<path d="M535.2,428.5C535.4,429.4 535.9,431.4 536.5,434.0C537.1,436.6 538.5,440.5 539.0,444.2C539.5,447.9 539.7,452.8 539.4,456.3C539.1,459.8 538.0,462.8 537.4,465.1C536.8,467.4 537.0,466.3 535.5,470.0C534.0,473.7 531.2,481.5 528.6,487.2C526.0,492.9 522.0,499.2 520.0,504.3C518.0,509.4 516.9,513.4 516.6,518.0C516.3,522.6 517.6,527.8 518.3,531.8C519.0,535.8 520.3,539.0 520.9,542.0C521.5,545.0 521.8,548.7 522.0,550.0L536.0,550.0C535.6,548.5 534.9,544.8 533.8,541.2C532.7,537.6 530.4,532.4 529.5,528.3C528.6,524.1 528.2,520.3 528.6,516.3C529.0,512.3 530.4,509.1 532.0,504.3C533.6,499.5 536.3,492.9 538.0,487.2C539.7,481.5 541.7,473.7 542.4,470.0C543.1,466.3 542.2,467.4 542.3,465.1C542.4,462.8 543.0,459.4 543.1,456.3C543.2,453.2 543.1,449.4 542.7,446.6C542.4,443.8 541.9,442.3 541.0,439.3C540.1,436.3 538.0,430.3 537.4,428.5Z" fill="#4c9e2a"/>
<path d="M536.7,428.5C537.1,429.9 538.7,433.8 539.5,436.6C540.3,439.5 541.1,442.1 541.5,445.4C541.9,448.7 542.0,453.0 541.9,456.3C541.7,459.6 541.0,462.8 540.7,465.1C540.4,467.4 541.1,466.3 540.1,470.0C539.2,473.7 536.9,481.5 534.9,487.2C532.9,492.9 529.7,499.3 528.0,504.3C526.3,509.3 525.0,512.9 524.6,517.1C524.3,521.4 525.0,526.0 525.8,530.0C526.6,534.1 528.6,538.3 529.5,541.6C530.5,544.9 531.1,548.6 531.4,550.0L536.0,550.0C535.6,548.5 534.9,544.8 533.8,541.2C532.7,537.6 530.4,532.4 529.5,528.3C528.6,524.1 528.2,520.3 528.6,516.3C529.0,512.3 530.4,509.1 532.0,504.3C533.6,499.5 536.3,492.9 538.0,487.2C539.7,481.5 541.7,473.7 542.4,470.0C543.1,466.3 542.2,467.4 542.3,465.1C542.4,462.8 543.0,459.4 543.1,456.3C543.2,453.2 543.1,449.4 542.7,446.6C542.4,443.8 541.9,442.3 541.0,439.3C540.1,436.3 538.0,430.3 537.4,428.5Z" fill="#59ad30"/>
<path d="M524.0,392.7C524.0,393.8 524.4,397.1 524.2,399.5C524.0,401.9 523.4,404.4 523.0,406.8C522.6,409.2 521.9,411.6 521.9,414.0C521.9,416.4 522.2,419.2 523.0,421.3C523.8,423.4 525.1,425.5 526.6,426.9C528.1,428.3 530.7,429.3 532.2,429.7C533.7,430.1 535.0,429.3 535.5,429.2L535.5,429.2C536.0,428.8 537.8,428.2 538.7,426.9C539.6,425.6 540.4,423.2 540.7,421.3C541.0,419.4 540.8,417.6 540.3,415.6C539.8,413.6 539.0,411.4 537.9,409.2C536.8,407.0 535.3,404.8 533.8,402.7C532.3,400.6 530.6,398.0 529.0,396.3C527.4,394.6 524.8,393.3 524.0,392.7Z" fill="#69ba35"/>
<path d="M524.0,392.7C524.0,393.8 524.4,397.1 524.2,399.5C524.0,401.9 523.4,404.4 523.0,406.8C522.6,409.2 521.9,411.6 521.9,414.0C521.9,416.4 522.2,419.2 523.0,421.3C523.8,423.4 525.1,425.5 526.6,426.9C528.1,428.3 530.7,429.3 532.2,429.7C533.7,430.1 535.0,429.3 535.5,429.2L535.5,429.2C535.2,428.3 534.4,425.7 533.8,423.7C533.2,421.7 532.5,419.6 531.8,417.2C531.1,414.8 530.5,411.9 529.8,409.2C529.1,406.5 528.4,403.9 527.4,401.1C526.4,398.4 524.6,394.1 524.0,392.7Z" fill="#4f9c2a"/>
<path d="M599.1,428.1C597.8,428.0 594.0,427.0 591.4,427.3C588.8,427.6 586.0,428.8 583.3,429.7C580.6,430.6 578.0,431.7 575.3,432.9C572.6,434.1 569.8,435.3 567.2,436.9C564.7,438.4 562.0,440.3 560.0,442.2C558.0,444.1 556.1,446.3 555.1,448.2C554.1,450.1 553.8,452.2 553.7,453.8C553.6,455.4 554.5,457.2 554.7,457.9L554.7,457.9C555.3,458.6 556.7,460.9 558.4,461.9C560.1,462.9 562.6,463.7 564.8,463.9C566.9,464.1 569.1,463.8 571.3,463.1C573.4,462.4 575.7,461.1 577.7,459.5C579.7,457.9 581.7,456.1 583.3,453.8C584.9,451.5 586.0,448.6 587.4,445.8C588.8,443.0 590.1,439.3 591.4,436.9C592.7,434.5 594.1,432.8 595.4,431.3C596.7,429.8 598.5,428.6 599.1,428.1Z" fill="#69ba35"/>
<path d="M599.1,428.1C596.8,429.0 588.6,431.6 585.0,433.7C581.4,435.8 580.0,438.6 577.7,441.0C575.4,443.4 573.7,445.9 571.3,448.2C568.9,450.5 566.0,453.0 563.2,454.6C560.4,456.2 556.1,457.3 554.7,457.9L554.7,457.9C555.3,458.6 556.7,460.9 558.4,461.9C560.1,462.9 562.6,463.7 564.8,463.9C566.9,464.1 569.1,463.8 571.3,463.1C573.4,462.4 575.7,461.1 577.7,459.5C579.7,457.9 581.7,456.1 583.3,453.8C584.9,451.5 586.0,448.6 587.4,445.8C588.8,443.0 590.1,439.3 591.4,436.9C592.7,434.5 594.1,432.8 595.4,431.3C596.7,429.8 598.5,428.6 599.1,428.1Z" fill="#60b231"/>
<path d="M599.1,428.1C597.8,429.3 593.8,432.8 591.4,435.3C589.0,437.9 587.1,441.0 585.0,443.4C582.9,445.8 580.8,448.1 578.5,449.8C576.2,451.5 573.8,452.8 571.3,453.8C568.8,454.8 566.0,455.2 563.2,455.9C560.4,456.6 556.1,457.6 554.7,457.9L554.7,457.9C555.3,458.6 556.7,460.9 558.4,461.9C560.1,462.9 562.6,463.7 564.8,463.9C566.9,464.1 569.1,463.8 571.3,463.1C573.4,462.4 575.7,461.1 577.7,459.5C579.7,457.9 581.7,456.1 583.3,453.8C584.9,451.5 586.0,448.6 587.4,445.8C588.8,443.0 590.1,439.3 591.4,436.9C592.7,434.5 594.1,432.8 595.4,431.3C596.7,429.8 598.5,428.6 599.1,428.1Z" fill="#4f9c2a"/>
<path d="M471.3,454.0C472.3,453.8 474.8,452.7 477.1,452.9C479.4,453.1 482.4,454.2 485.1,455.1C487.8,456.0 490.5,457.1 493.2,458.3C495.9,459.5 498.6,460.8 501.3,462.3C504.0,463.9 507.1,465.8 509.3,467.6C511.5,469.4 513.0,471.3 514.2,473.2C515.4,475.1 516.1,477.2 516.4,478.8C516.7,480.4 516.2,481.7 515.8,482.9C515.4,484.1 514.5,485.6 514.2,486.1L514.2,486.1C513.7,486.6 512.4,488.2 510.9,488.9C509.4,489.5 507.3,490.1 505.3,490.0C503.3,489.9 501.0,489.2 498.8,488.1C496.6,487.1 494.4,485.5 492.4,483.7C490.4,481.9 488.3,479.3 486.8,477.2C485.3,475.1 484.6,472.9 483.5,470.8C482.4,468.7 481.6,466.5 480.3,464.3C479.0,462.1 477.0,459.6 475.5,457.9C474.0,456.2 472.0,454.6 471.3,454.0Z" fill="#69ba35"/>
<path d="M471.3,454.0C472.9,454.5 478.1,455.5 481.1,457.1C484.1,458.7 486.8,461.2 489.2,463.5C491.6,465.8 493.5,468.5 495.6,470.8C497.8,473.1 500.0,475.3 502.1,477.2C504.2,479.1 506.5,480.7 508.5,482.1C510.5,483.5 513.2,485.1 514.2,485.7L514.2,486.1C513.7,486.6 512.4,488.2 510.9,488.9C509.4,489.5 507.3,490.1 505.3,490.0C503.3,489.9 501.0,489.2 498.8,488.1C496.6,487.1 494.4,485.5 492.4,483.7C490.4,481.9 488.3,479.3 486.8,477.2C485.3,475.1 484.6,472.9 483.5,470.8C482.4,468.7 481.6,466.5 480.3,464.3C479.0,462.1 477.0,459.6 475.5,457.9C474.0,456.2 472.0,454.6 471.3,454.0Z" fill="#60b231"/>
<path d="M471.3,454.0C472.5,455.1 476.5,457.9 478.7,460.3C480.9,462.7 482.1,466.0 484.3,468.4C486.5,470.8 489.2,473.1 491.6,474.8C494.0,476.5 496.2,477.5 498.8,478.8C501.4,480.1 504.3,481.4 506.9,482.6C509.5,483.8 513.0,485.5 514.2,486.1L514.2,486.1C513.7,486.6 512.4,488.2 510.9,488.9C509.4,489.5 507.3,490.1 505.3,490.0C503.3,489.9 501.0,489.2 498.8,488.1C496.6,487.1 494.4,485.5 492.4,483.7C490.4,481.9 488.3,479.3 486.8,477.2C485.3,475.1 484.6,472.9 483.5,470.8C482.4,468.7 481.6,466.5 480.3,464.3C479.0,462.1 477.0,459.6 475.5,457.9C474.0,456.2 472.0,454.6 471.3,454.0Z" fill="#4f9c2a"/>
<path d="M599.1,428.1C596.8,429.0 588.6,431.6 585.0,433.7C581.4,435.8 580.0,438.6 577.7,441.0C575.4,443.4 573.7,445.9 571.3,448.2C568.9,450.5 566.0,453.0 563.2,454.6C560.4,456.2 556.1,457.3 554.7,457.9M471.3,454.0C472.9,454.5 478.1,455.5 481.1,457.1C484.1,458.7 486.8,461.2 489.2,463.5C491.6,465.8 493.5,468.5 495.6,470.8C497.8,473.1 500.0,475.3 502.1,477.2C504.2,479.1 506.5,480.7 508.5,482.1C510.5,483.5 513.2,485.1 514.2,485.7M524.0,392.7C524.6,394.1 526.4,398.4 527.4,401.1C528.4,403.9 529.1,406.5 529.8,409.2C530.5,411.9 531.1,414.8 531.8,417.2C532.5,419.6 533.2,421.7 533.8,423.7C534.4,425.7 535.2,428.3 535.5,429.2M571.3,448.2L570.5,441.5M563.2,454.6L562,448M577.7,441L582,438.5M495.6,470.8L499.5,466M502.1,477.2L507.5,473.5M489.2,463.5L484.5,463.8M529.8,409.2L527,406.5M531.8,417.2L534.5,412.5M533.8,423.7L536.5,420" fill="none" stroke="#4a9628" stroke-width="0.9" stroke-linecap="round"/>
<path d="M555.5,459.3L559.5,457" stroke="#3f8a24" stroke-width="3.2" stroke-linecap="round"/>
<path d="M514.5,485.9L510.5,483.8" stroke="#3f8a24" stroke-width="2.9" stroke-linecap="round"/>
<path d="M490.0,557.9C490.1,557.1 489.9,554.4 490.3,553.0C490.7,551.6 491.5,550.6 492.6,549.5C493.7,548.4 495.4,547.1 497.0,546.5C498.6,545.9 500.2,545.9 502.0,545.8C503.8,545.7 506.0,546.0 508.0,546.0C510.0,546.0 512.3,546.2 514.0,546.0C515.7,545.8 517.0,545.3 518.0,544.5C519.0,543.7 519.5,541.6 520.3,541.4C521.1,541.1 522.0,542.8 523.0,543.0C524.0,543.2 525.1,542.4 526.0,542.5C526.9,542.6 527.6,543.5 528.5,543.5C529.4,543.5 530.4,543.0 531.5,542.5C532.6,542.0 534.3,540.7 535.4,540.7C536.5,540.7 537.1,542.5 538.0,542.5C538.9,542.5 539.7,541.4 541.0,541.0C542.3,540.6 544.3,540.2 546.0,540.3C547.7,540.4 549.6,540.6 551.0,541.5C552.4,542.4 553.1,544.7 554.3,545.8C555.5,546.9 556.7,548.0 558.0,548.3C559.3,548.6 560.5,547.9 562.0,547.5C563.5,547.1 565.1,545.9 566.8,545.8C568.5,545.7 570.5,546.2 572.0,547.0C573.5,547.8 574.6,548.7 575.5,550.5C576.4,552.3 577.2,556.7 577.5,557.9Z" fill="#3a211a"/>
</g></defs>
<use href="#plant" transform="translate(322.60,557.9) scale(0.716) translate(-533.85,-557.9)"/>
<use href="#plant" transform="translate(533.85,557.9) scale(1) translate(-533.85,-557.9)"/>
<use href="#plant" transform="translate(744.05,557.9) scale(0.798) translate(-533.85,-557.9)"/>
<path d="M82.9,556.6L88.6,552.6L96.6,549.7L105.7,546.3L113.8,542.3L118.3,541.4L124.1,543.4L133.2,544.8L138.9,545.5L144.6,549.2L153.8,550.3L162.9,553.7L168.1,556.3L160.7,558.9L153.8,559.5L149.2,561.2L137.8,560.6L127.5,562.0L119.5,563.5L112.6,562.3L105.7,560.6L100.0,561.2L93.2,558.9L85.2,558.3Z" fill="#8b4a30"/><path d="M149.2,550.3L156.1,550.9L163.0,553.7L168.1,556.3L160.7,558.9L153.8,559.5L149.2,561.2L137.8,560.6L127.5,562.0L119.5,563.5L115.5,562.4L124.1,560.0L133.2,557.7L142.4,556.6L146.9,553.7ZM82.9,556.6L88.6,552.6L93.2,554.3L98.9,554.9L106.9,553.2L110.3,554.3L104.6,556.6L102.3,560.6L98.9,560.8L96.6,557.7L89.7,557.7L85.2,558.3ZM114.3,542.5L118.3,541.4L123.1,543.3L119.5,544.4ZM129.8,545.5L138.4,545.5L136.1,548.2L133.2,546.4ZM137.8,549.2L139.2,548.9L138.9,553.7L138.1,554.0ZM125.2,552.6L130.9,551.7L130.7,552.6L125.4,553.7ZM109.2,549.2L113.8,548.9L115.5,550.3L110.3,550.3ZM105.7,558.9L113.8,557.7L121.8,559.5L113.8,560.6Z" fill="#1b1819"/>
</svg>
<div class="logo"><span class="lc">Cap</span><span class="li">i</span>taLand</div>
<svg width="874" height="621" viewBox="0 0 874 621" style="pointer-events:none">
<path d="M37.2,78.2C39.0,77.2 44.2,74.0 48.0,72.2C51.8,70.5 56.0,68.9 60.0,67.7C64.0,66.5 68.0,65.7 72.0,65.0C76.1,64.4 80.1,64.1 84.1,63.8C88.1,63.6 92.1,63.6 96.1,63.6C100.1,63.6 104.1,63.8 108.1,64.1C112.1,64.4 116.4,64.9 120.1,65.5C123.8,66.1 128.6,67.3 130.3,67.7L130.3,68.2C128.6,67.9 123.8,67.0 120.1,66.6C116.4,66.2 112.1,65.9 108.1,65.8C104.1,65.6 100.1,65.5 96.1,65.6C92.1,65.8 88.1,66.1 84.1,66.5C80.1,66.9 76.1,67.3 72.0,68.0C68.0,68.8 64.0,69.7 60.0,70.8C56.0,71.9 51.8,73.4 48.0,74.9C44.2,76.3 39.0,78.7 37.2,79.4Z" fill="#1fa84b"/>
<path d="M69.8,46L72.2,46L66.7,67.2L65.5,67.2Z" fill="#16398d"/>
<circle cx="71.5" cy="41.2" r="2.2" fill="#e8222c"/>
</svg>
<div class="t title" style="top:110px;left:0"><span style="left:61.5px;letter-spacing:0.07px">Switch</span> <span style="left:187.1px;letter-spacing:1.95px">To</span></div>
<div class="t title" style="top:152px;left:0"><span style="left:62.5px;letter-spacing:0.09px">Renewable</span> <span style="left:260.8px;letter-spacing:-0.51px">Energy</span></div>
<div class="t title" style="top:194px;left:0"><span style="left:61.8px;letter-spacing:0.67px">in</span> <span style="left:104.1px;letter-spacing:0.08px">HIPL</span> <span style="left:194.2px;letter-spacing:1.6px">(H08A)</span></div>
<div class="t lb" style="top:320px"><span style="left:109.1px;transform:scaleX(1.298)">0</span><span style="left:124.5px;transform:scaleX(0.992)">%</span></div>
<div class="t lb" style="top:319px"><span style="left:313.5px;transform:scaleX(1.143)">3</span><span style="left:326.9px;transform:scaleX(1.022)">%</span></div>
<div class="t lb" style="top:319px"><span style="left:513.8px;transform:scaleX(1.076)">5</span><span style="left:526.9px;transform:scaleX(1.022)">%</span></div>
<div class="t lb" style="top:319px"><span style="left:723.3px;transform:scaleX(1.226)">4</span><span style="left:736.9px;transform:scaleX(1.022)">%</span></div>
<div class="t lb" style="top:570px"><span style="left:96.5px;transform:scaleX(1.065)">2</span><span style="left:109.2px;transform:scaleX(1.220)">0</span><span style="left:122.0px;transform:scaleX(0.976)">1</span><span style="left:133.5px;transform:scaleX(1.148)">9</span></div>
<div class="t lb" style="top:570px"><span style="left:288.3px;transform:scaleX(1.082)">2</span><span style="left:301.2px;transform:scaleX(1.220)">0</span><span style="left:314.8px;transform:scaleX(1.039)">2</span><span style="left:326.8px;transform:scaleX(1.220)">0</span></div>
<div class="t lb" style="top:570px"><span style="left:517.5px;transform:scaleX(1.039)">2</span><span style="left:530.4px;transform:scaleX(1.220)">0</span><span style="left:544.0px;transform:scaleX(0.996)">2</span><span style="left:554.3px;transform:scaleX(1.069)">1</span></div>
<div class="t lb" style="top:570px"><span style="left:721.5px;transform:scaleX(1.039)">2</span><span style="left:734.0px;transform:scaleX(1.220)">0</span><span style="left:748.0px;transform:scaleX(0.996)">2</span><span style="left:759.2px;transform:scaleX(1.039)">2</span></div>
</body></html>
